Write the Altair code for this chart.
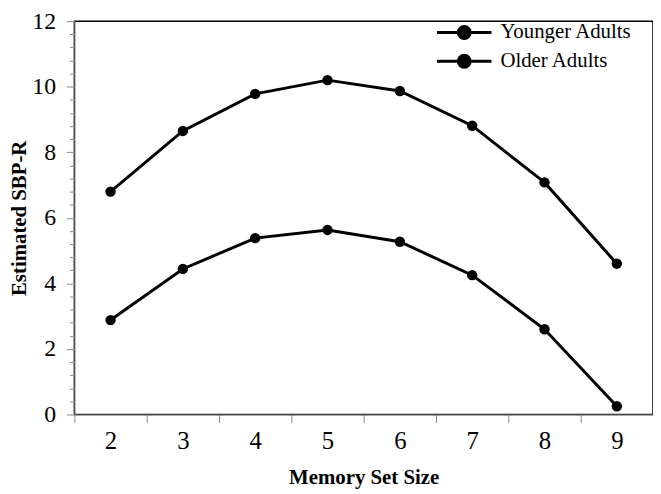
import altair as alt
import pandas as pd

set_sizes = [2, 3, 4, 5, 6, 7, 8, 9]
younger = [6.80, 8.65, 9.78, 10.20, 9.87, 8.81, 7.08, 4.60]
older = [2.88, 4.44, 5.38, 5.63, 5.27, 4.25, 2.60, 0.25]
series_names = ["Younger Adults", "Older Adults"]
major_ticks = [0, 2, 4, 6, 8, 10, 12]
minor_ticks = [round(i * 0.4, 1) for i in range(31) if i % 5 != 0]

rows = []
for s, v in zip(set_sizes, younger):
    rows.append({"size": s, "value": v, "group": series_names[0]})
for s, v in zip(set_sizes, older):
    rows.append({"size": s, "value": v, "group": series_names[1]})
df = pd.DataFrame(rows)
minor_df = pd.DataFrame({"value": minor_ticks})

FONT = "Liberation Serif"
LEGEND_SYMBOL = "M-2.75,0H2.75M-0.6,0a0.6,0.6 0 1,0 1.2,0a0.6,0.6 0 1,0 -1.2,0Z"
yscale = alt.Scale(domain=[0, 12], nice=False)

lines = alt.Chart(df).mark_line(
    strokeWidth=3,
    point=alt.OverlayMarkDef(filled=True, size=110, opacity=1),
).encode(
    x=alt.X("size:O", title="Memory Set Size",
            scale=alt.Scale(type="band", paddingInner=0, paddingOuter=0),
            axis=alt.Axis(tickBand="extent", labelAngle=0, labelFontSize=25,
                          labelPadding=6, tickSize=8, tickColor="#888888",
                          domainColor="#888888", titleFontSize=21,
                          titleFontWeight="bold", titlePadding=14,
                          labelFont=FONT, titleFont=FONT, labelColor="black")),
    y=alt.Y("value:Q", title="Estimated SBP-R", scale=yscale,
            axis=alt.Axis(values=major_ticks, grid=False, format="d",
                          labelOverlap=False, labelFlush=False,
                          tickSize=8, tickColor="#888888", domainColor="#888888",
                          labelFontSize=24, labelPadding=11, labelFont=FONT,
                          titleFont=FONT, titleFontSize=21, titleFontWeight="bold",
                          titlePadding=2, labelColor="black")),
    color=alt.Color("group:N", sort=series_names,
                    scale=alt.Scale(domain=series_names, range=["black", "black"]),
                    legend=alt.Legend(title=None, orient="none", legendX=382, legendY=0,
                                      labelFont=FONT, labelFontSize=21, labelColor="black",
                                      symbolType=LEGEND_SYMBOL, symbolSize=400,
                                      symbolStrokeWidth=3, symbolFillColor="black",
                                      symbolStrokeColor="black", rowPadding=4,
                                      labelOffset=25)),
)

minor = alt.Chart(minor_df).mark_point(opacity=0).encode(
    y=alt.Y("value:Q", scale=yscale,
            axis=alt.Axis(values=minor_ticks, orient="left", labels=False, domain=False,
                          grid=False, tickSize=5, tickColor="#888888", title=None)),
)

chart = alt.layer(lines, minor).resolve_axis(y="independent").properties(
    width=584,
    height=397,
    padding={"left": 67, "top": 11, "right": 0, "bottom": 78},
    autosize=alt.AutoSizeParams(type="none"),
).configure_view(
    stroke="black", strokeWidth=1.5
).configure_axis(grid=False)

chart.save("out.html", embed_options={"renderer": "svg", "actions": False})
